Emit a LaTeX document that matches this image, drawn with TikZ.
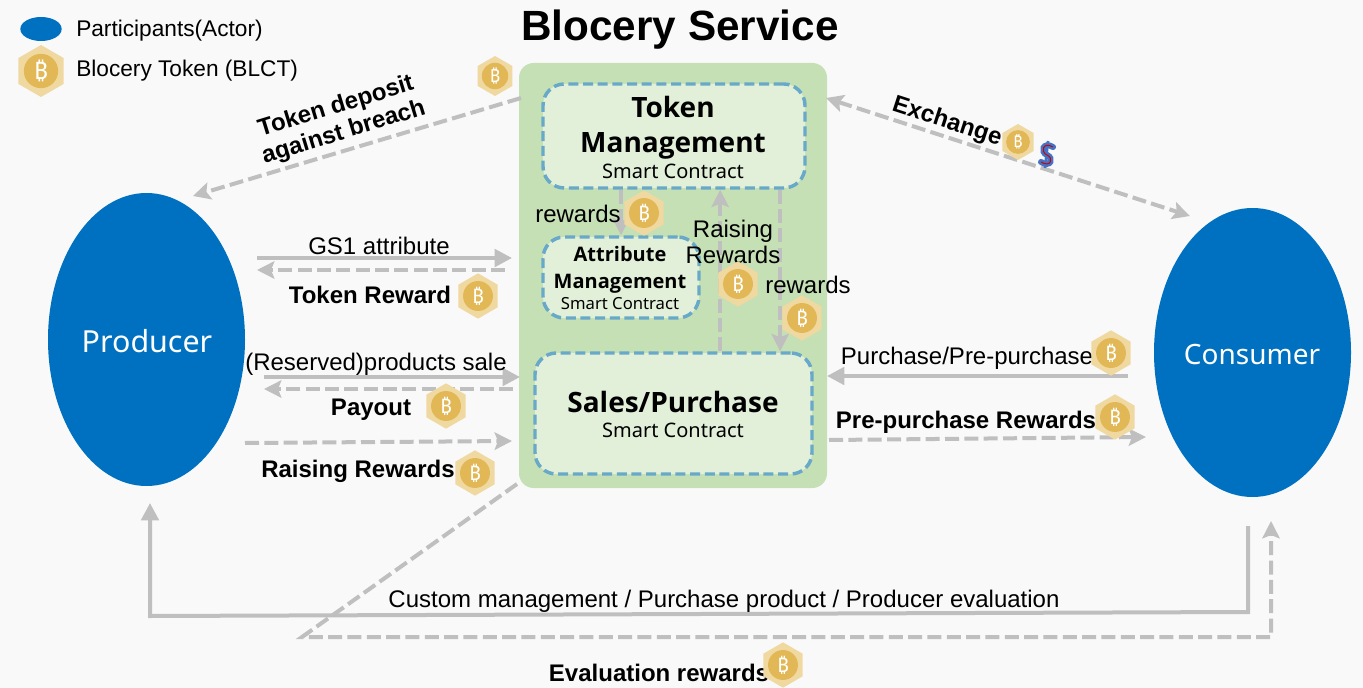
\documentclass[tikz,border=0pt]{standalone}
\usepackage{fontspec}
\setmainfont{Liberation Sans}
\newfontfamily\boxfont{Noto Sans}
\newfontfamily\headfont{Open Sans}
\newfontfamily\coinfont{Noto Sans}
\usetikzlibrary{positioning, arrows.meta, shapes.geometric}

\definecolor{pagegray}{HTML}{F9F9F9}
\definecolor{panelgreen}{HTML}{C5E0B4}
\definecolor{boxgreen}{HTML}{E2F0D9}
\definecolor{boxblue}{HTML}{68A9C9}
\definecolor{actorblue}{HTML}{0070C0}
\definecolor{linegray}{HTML}{BFBFBF}
\definecolor{coinpale}{HTML}{F0D9A0}
\definecolor{coingold}{HTML}{E2B857}
\definecolor{dollarblue}{HTML}{4472C4}

\begin{document}
\begin{tikzpicture}[
        x=0.75pt, y=-0.75pt,
        actor/.style={ellipse, fill=actorblue, text=white, inner sep=0pt},
        block/.style={rectangle, draw=boxblue, fill=boxgreen, line width=2.6pt, dash pattern=on 7.5pt off 3.5pt, rounded corners=16pt, align=center, inner sep=0pt},
        head/.style 2 args={font=\headfont\fontsize{#1}{#2}\selectfont\bfseries, align=center, inner sep=0pt},
        small/.style={font=\boxfont\fontsize{#1}{#1}\selectfont, inner sep=0pt},
        txt/.style={font=\fontsize{18}{20}\selectfont, inner sep=0pt, align=center},
        boldtxt/.style={txt, font=\fontsize{18}{20}\selectfont\bfseries},
        coin/.style 2 args={regular polygon, regular polygon sides=6, shape border rotate=30, fill=coinpale, inner sep=0pt, text=white, minimum size=#1pt, font=\coinfont\fontsize{#2}{#2}\selectfont\bfseries,
            path picture={\fill[coingold] (path picture bounding box.center) circle ({0.33*#1pt});}},
        token/.style={coin={34}{15}},
        line/.style={draw=linegray, line width=3pt, -{Triangle[length=13pt, width=13pt]}},
        dashline/.style={line, dash pattern=on 10.5pt off 4pt, -{Stealth[length=13pt, width=13pt, inset=2.5pt]}}
    ]
        % Background
        \fill[pagegray] (0,0) rectangle (1363,688);
        \useasboundingbox (0,0) rectangle (1363,688);

        % Legend and title
        \node [actor, minimum width=31pt, minimum height=18pt] (legendactor) at (41,29) {};
        \node [coin={39}{18}] (legendcoin) at (41,71) {₿};
        \node [txt, font=\fontsize{17}{20}\selectfont, anchor=west] (legendtxt) at (76,31) {Participants(Actor)};
        \node [txt, font=\fontsize{17}{20}\selectfont, anchor=west] (legendtoken) at (76,71) {Blocery Token (BLCT)};
        \node [font=\fontsize{31.7}{36}\selectfont\bfseries, inner sep=0pt] (title) at (680,30) {Blocery Service};

        % Actors
        \node [actor, minimum width=147.75pt, minimum height=219.75pt] (producer) at (146.5,339.5) {};
        \node [small=22.8, text=white] (producerlabel) at (147,341) {Producer};
        \node [actor, minimum width=147.75pt, minimum height=216.75pt] (consumer) at (1252.5,352.5) {};
        \node [small=21, text=white] (consumerlabel) at (1252,355) {Consumer};

        % Service panel and contracts
        \node [rectangle, fill=panelgreen, rounded corners=11pt, minimum width=231pt, minimum height=318.75pt] (panel) at (673,275.5) {};
        \node [block, minimum width=196.5pt, minimum height=78pt] (tokenmgmt) at (674,136) {};
        \node [head={21}{26}] (tokentitle) at (673,128) {Token\\Management};
        \node [small=15, below=3pt of tokentitle] (tokensc) {Smart Contract};
        \node [block, minimum width=117pt, minimum height=60.75pt] (attr) at (621,277.5) {};
        \node [head={15}{20}] (attrtitle) at (620,270) {Attribute\\Management};
        \node [small=12.5, below=3pt of attrtitle] (attrsc) {Smart Contract};
        \node [block, minimum width=207.75pt, minimum height=90.75pt] (sales) at (673.5,413.5) {};
        \node [head={21}{26}] (salestitle) at (673,402) {Sales/Purchase};
        \node [small=15, below=7.5pt of salestitle] (salessc) {Smart Contract};

        % Free ends
        \coordinate (depositfrom) at (521,98);
        \coordinate (depositto) at (193,196);
        \coordinate (exchangea) at (826,98);
        \coordinate (exchangeb) at (1190,216);
        \coordinate (gsfrom) at (257,258);
        \coordinate (gsto) at (512,258);
        \coordinate (rewardfrom) at (505,270);
        \coordinate (rewardto) at (257,270);
        \coordinate (salefrom) at (264,377);
        \coordinate (saleto) at (520,377);
        \coordinate (payfrom) at (513,389);
        \coordinate (payto) at (264,389);
        \coordinate (raisefrom) at (245,443);
        \coordinate (raiseto) at (512,441);
        \coordinate (buyfrom) at (1128,376);
        \coordinate (buyto) at (827,376);
        \coordinate (prefrom) at (829,440);
        \coordinate (preto) at (1146,437);
        \coordinate (evalfrom) at (517,484);
        \coordinate (evalb) at (302,637);
        \coordinate (evalc) at (1271,637);
        \coordinate (evalto) at (1271,521);
        \coordinate (customfrom) at (1248,526);
        \coordinate (customb) at (1248,612);
        \coordinate (customc) at (150,616);
        \coordinate (customto) at (150,503);

        % Edges
        \path [dashline] (depositfrom) -- (depositto);
        \path [dashline, {Stealth[length=13pt, width=13pt, inset=2.5pt]}-{Stealth[length=13pt, width=13pt, inset=2.5pt]}] (exchangea) -- (exchangeb);
        \path [line] (gsfrom) -- (gsto);
        \path [dashline] (rewardfrom) -- (rewardto);
        \path [line] (salefrom) -- (saleto);
        \path [dashline] (payfrom) -- (payto);
        \path [dashline] (raisefrom) -- (raiseto);
        \path [line] (buyfrom) -- (buyto);
        \path [dashline] (prefrom) -- (preto);
        \path [dashline] (evalfrom) -- (evalb) -- (evalc) -- (evalto);
        \path [line] (customfrom) -- (customb) -- (customc) -- (customto);
        \path [dashline] (tokenmgmt.south -| attr.north) -- (attr.north);
        \path [dashline] ([xshift=35pt]sales.north) -- ([xshift=35pt]sales.north |- tokenmgmt.south);
        \path [dashline] ([xshift=80pt]sales.north |- tokenmgmt.south) -- ([xshift=80pt]sales.north);

        % Labels
        \node [boldtxt, rotate=17] (depositlabel) at (340,120) {Token deposit\\against breach};
        \node [boldtxt, rotate=-18] (exchangelabel) at (947,122) {Exchange};
        \node [txt] (gslabel) at (379,246) {GS1 attribute};
        \node [boldtxt] (rewardlabel) at (370,295) {Token Reward};
        \node [txt] (salelabel) at (376,364) {(Reserved)products sale};
        \node [boldtxt] (paylabel) at (371,410) {Payout};
        \node [boldtxt] (raiselabel) at (358,471) {Raising Rewards};
        \node [txt] (buylabel) at (967,358) {Purchase/Pre-purchase};
        \node [boldtxt] (prelabel) at (966,422) {Pre-purchase Rewards};
        \node [txt] (customlabel) at (724,601) {Custom management / Purchase product / Producer evaluation};
        \node [boldtxt] (evallabel) at (659,673) {Evaluation rewards};
        \node [txt] (rewardsa) at (578,214) {rewards};
        \node [txt] (raisingb) at (733,242) {Raising\\Rewards};
        \node [txt] (rewardsc) at (808,285) {rewards};

        % Tokens
        \node [coin={30}{13.5}] (coindeposit) at (495,76) {₿};
        \node [coin={27}{12}] (coinexchange) at (1018,142) {₿};
        \node [token] (coinrewardsa) at (644,213) {₿};
        \node [token] (coinraisingb) at (738,284) {₿};
        \node [token] (coinrewardsc) at (802,318) {₿};
        \node [token] (coinreward) at (478,296) {₿};
        \node [token] (coinpay) at (446,406) {₿};
        \node [token] (coinraise) at (475,473) {₿};
        \node [token] (coinbuy) at (1111,353) {₿};
        \node [token] (coinpre) at (1115,417) {₿};
        \node [token] (coineval) at (783,665) {₿};

        % Dollar sign
        \draw [dollarblue, line width=4.5pt, line cap=round] (1053,147) .. controls (1043,141) and (1040,152) .. (1047,155) .. controls (1054,158) and (1051,168) .. (1041,162);
        \draw [dollarblue, line width=2pt] (1048,141) -- (1045,168);
        \draw [red!80!black, line width=0.7pt] (1053,147) .. controls (1043,141) and (1040,152) .. (1047,155) .. controls (1054,158) and (1051,168) .. (1041,162);
    \end{tikzpicture}
\end{document}
